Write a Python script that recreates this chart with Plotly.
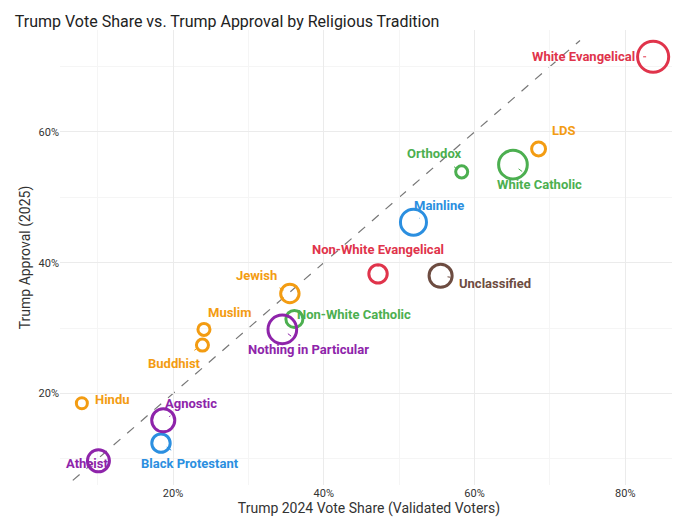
"""
Trump vote share vs. Trump approval by religious tradition
"""
import pandas as pd
import plotly.express as px

# ── Données ────────────────────────────────────────────────────────────────────
groups = ['White Evangelical', 'LDS', 'Orthodox', 'White Catholic', 'Mainline',
          'Non-White Evangelical', 'Unclassified', 'Jewish', 'Non-White Catholic',
          'Nothing in Particular', 'Muslim', 'Buddhist', 'Hindu', 'Agnostic',
          'Black Protestant', 'Atheist']
vote = [83.7, 68.5, 58.3, 65.1, 51.9, 47.2, 55.5, 35.5, 36.1, 34.5, 24.1, 23.9, 7.9, 18.7, 18.4, 10.1]
approval = [71.5, 57.4, 53.9, 55.0, 46.2, 38.3, 38.0, 35.3, 31.4, 29.8, 29.8, 27.4, 18.5, 15.9, 12.4, 9.7]
weight = [20, 4, 3, 17, 14, 7, 11, 7, 6, 17, 3, 3, 2.5, 11, 7, 10]
family = ['Evangelical', 'Other', 'Catholic', 'Catholic', 'Mainline',
          'Evangelical', 'Unclassified', 'Other', 'Catholic',
          'None', 'Other', 'Other', 'Other', 'None', 'Mainline', 'None']
label_dx = [-70, 25, -27, 27, 26, 0, 54, -33, 60, 26, 26, -28, 31, 28, 29, -11]
label_dy = [0, -18, -18, 20, -17, -24, 8, -18, -4, 20, -17, 18, -4, -17, 20, 3]

colors = {'Evangelical': '#E0344B', 'Catholic': '#4CAF50', 'Other': '#F39C12',
          'Mainline': '#2B8FE0', 'Unclassified': '#6D4C41', 'None': '#8E24AA'}

df = pd.DataFrame({'group': groups, 'vote': vote, 'approval': approval,
                   'weight': weight, 'family': family})

fig = px.scatter(df, x='vote', y='approval', color='family', size='weight',
                 size_max=22, color_discrete_map=colors,
                 title='Trump Vote Share vs. Trump Approval by Religious Tradition',
                 labels={'vote': 'Trump 2024 Vote Share (Validated Voters)',
                         'approval': 'Trump Approval (2025)'})
fig.update_traces(marker=dict(symbol='circle-open', line_width=3, opacity=1))

# diagonale y = x
fig.add_shape(type='line', x0=6.7, y0=6.7, x1=74, y1=74,
              line=dict(color='#777777', width=1.2, dash='dash'), layer='below')

# ── Étiquettes ────────────────────────────────────────────────────────────────
for i, g in enumerate(groups):
    c = colors[family[i]]
    fig.add_annotation(x=vote[i], y=approval[i], text=f'<b>{g}</b>',
                       ax=label_dx[i], ay=label_dy[i], showarrow=True,
                       arrowhead=0, arrowwidth=1, arrowcolor=c,
                       standoff=7, startstandoff=7,
                       font=dict(size=13, color=c))

fig.add_annotation(x=1, y=-0.13, xref='paper', yref='paper', showarrow=False,
                   xanchor='right', yanchor='top',
                   text='@ryanburge | Data: Cooperative Election Study, 2024-2025',
                   font=dict(size=11, color='#333333'))

fig.update_layout(
    width=680, height=529, showlegend=False,
    plot_bgcolor='white', paper_bgcolor='white',
    font=dict(family='Liberation Sans Narrow, Roboto, sans-serif', color='#333333'),
    title=dict(x=0.01, y=0.985, font=dict(size=16, color='#222222')),
    margin=dict(l=52, r=10, t=22, b=52),
)
fig.update_xaxes(range=[5, 87], tickvals=[20, 40, 60, 80], ticktext=['20%', '40%', '60%', '80%'],
                 gridcolor='#EBEBEB', zeroline=False, title_font_size=14, title_standoff=4,
                 tickfont_size=11,
                 minor=dict(tickvals=[10, 30, 50, 70], gridcolor='#F5F5F5', showgrid=True))
fig.update_yaxes(range=[6, 75.6], tickvals=[20, 40, 60], ticktext=['20%', '40%', '60%'],
                 gridcolor='#EBEBEB', zeroline=False, title_font_size=14, title_standoff=4,
                 tickfont_size=11,
                 minor=dict(tickvals=[10, 30, 50, 70], gridcolor='#F5F5F5', showgrid=True))

fig.write_html("out.html")
